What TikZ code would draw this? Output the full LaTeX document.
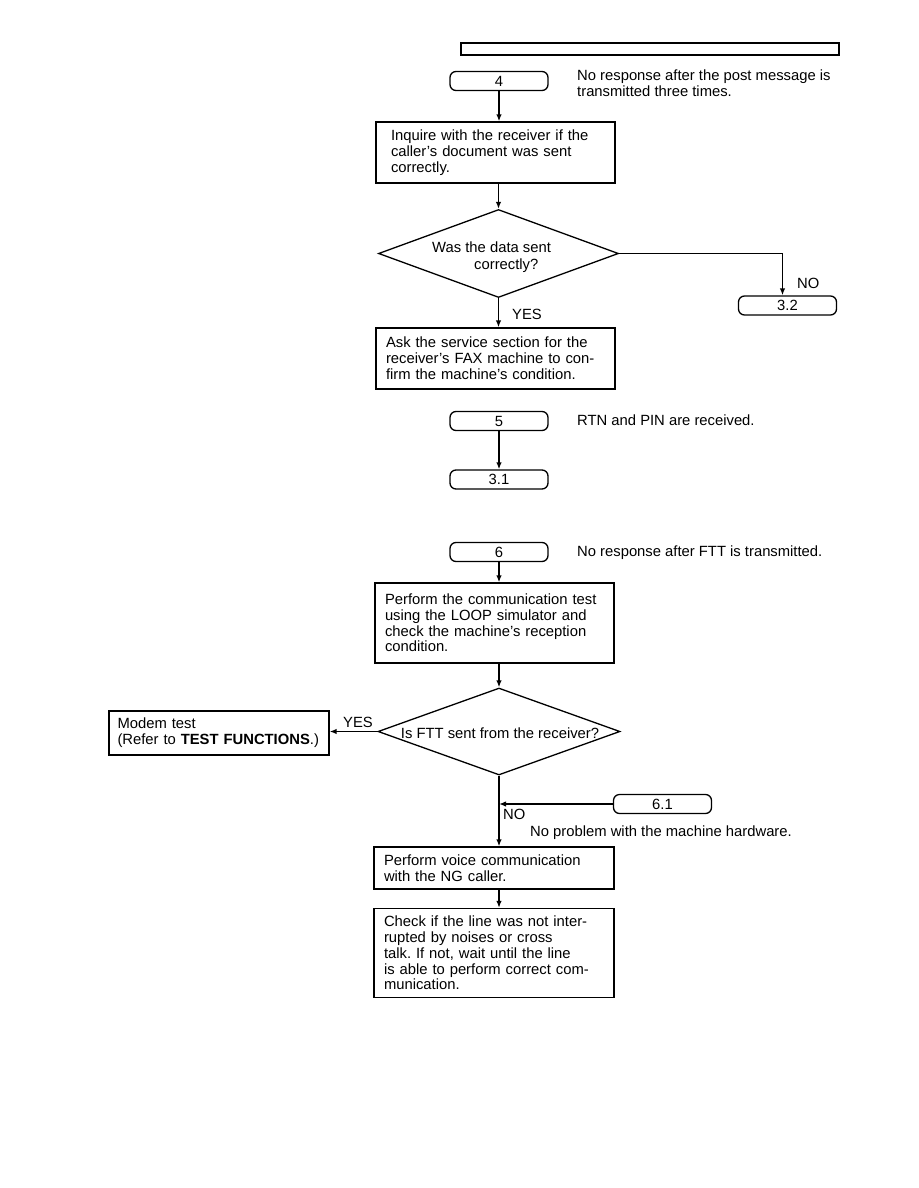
\documentclass[tikz,border=0pt]{standalone}
\usepackage{fontspec}
\setmainfont{Liberation Sans}
\usetikzlibrary{shapes.geometric,arrows.meta}
\frenchspacing
\begin{document}
\begin{tikzpicture}[x=1pt,y=-1pt,
 every node/.style={font=\fontsize{14.8}{15.8}\selectfont},
 arr/.style={line width=1.4pt,-{Latex[length=7pt,width=5.5pt]}},
 term/.style={draw,line width=1.3pt,rounded corners=6pt,minimum width=98pt,minimum height=19pt,inner sep=0pt},
 stepbox/.style={draw,line width=1.3pt,align=left,inner ysep=0pt},
 dia/.style={draw,line width=1.3pt,diamond,inner sep=0pt},
 txt/.style={anchor=base west,inner sep=0pt}]
\useasboundingbox (0,0) rectangle (918,1188);

% header bar
\node[draw,line width=1.3pt,minimum width=378pt,minimum height=12pt,inner sep=0pt] (hdr) at (650,49) {};

% column nodes
\node[term] (t4) at (499,81) {4};
\node[stepbox,minimum width=239pt,minimum height=61pt,text width=209pt,inner xsep=15pt] (b1) at (495.5,152.5)
 {Inquire with the receiver if the\\caller's document was sent\\correctly.};
\node[dia,minimum width=240pt,minimum height=88pt] (d1) at (498.5,253.5) {};
\node[txt] (d1a) at (432,252.5) {Was the data sent};
\node[txt] (d1b) at (474,269) {correctly?};
\node[term] (t32) at (787.5,305.5) {3.2};
\node[stepbox,minimum width=239pt,minimum height=61pt,text width=219pt,inner xsep=10pt] (b2) at (495.5,358.5)
 {Ask the service section for the\\receiver's FAX machine to con-\\firm the machine's condition.};

\node[term] (t5) at (499,421) {5};
\node[term] (t31) at (499,479.5) {3.1};

\node[term] (t6) at (499,552) {6};
\node[stepbox,minimum width=239pt,minimum height=80pt,text width=219pt,inner xsep=10pt] (b3) at (494.5,623)
 {Perform the communication test\\using the LOOP simulator and\\check the machine's reception\\condition.};
\node[dia,minimum width=242pt,minimum height=87pt] (d2) at (499,731.5) {};
\node[anchor=base,inner sep=0pt] (d2t) at (500,738) {Is FTT sent from the receiver?};
\node[stepbox,minimum width=220pt,minimum height=44pt,text width=203pt,inner xsep=8.5pt] (modem) at (219,733)
 {Modem test\\(Refer to \textbf{TEST FUNCTIONS}.)};
\node[term] (t61) at (662.5,804) {6.1};
\node[stepbox,minimum width=240pt,minimum height=42pt,text width=220pt,inner xsep=10pt] (b4) at (494,868)
 {Perform voice communication\\with the NG caller.};
\node[stepbox,minimum width=240pt,minimum height=89pt,text width=220pt,inner xsep=10pt] (b5) at (494,953)
 {Check if the line was not inter-\\rupted by noises or cross\\talk. If not, wait until the line\\is able to perform correct com-\\munication.};

% side texts
\node[txt] (n4a) at (577,81) {No response after the post message is};
\node[txt] (n4b) at (577,96.5) {transmitted three times.};
\node[txt] (n5) at (577,425) {RTN and PIN are received.};
\node[txt] (n6) at (577,556.5) {No response after FTT is transmitted.};
\node[txt] (no1) at (797,288.5) {NO};
\node[txt] (yes1) at (512,319) {YES};
\node[txt] (yes2) at (343,727) {YES};
\node[txt] (no2) at (503,819.5) {NO};
\node[txt] (n61) at (530,836.5) {No problem with the machine hardware.};

% connectors
\draw[arr] (t4.south) -- (t4.south |- b1.north);
\draw[arr] (d1.north |- b1.south) -- (d1.north);
\draw[arr] (d1.east) -| ([xshift=-5pt]t32.north);
\draw[arr] (d1.south) -- (d1.south |- b2.north);
\draw[arr] (t5.south) -- (t31.north);
\draw[arr] (t6.south) -- (t6.south |- b3.north);
\draw[arr] (d2.north |- b3.south) -- (d2.north);
\draw[arr] (d2.west) -- (d2.west -| modem.east);
\draw[arr] (d2.south) -- (d2.south |- b4.north);
\draw[arr] (t61.west) -- (t61.west -| d2.south);
\draw[arr] (d2.south |- b4.south) -- (d2.south |- b5.north);
\end{tikzpicture}
\end{document}
